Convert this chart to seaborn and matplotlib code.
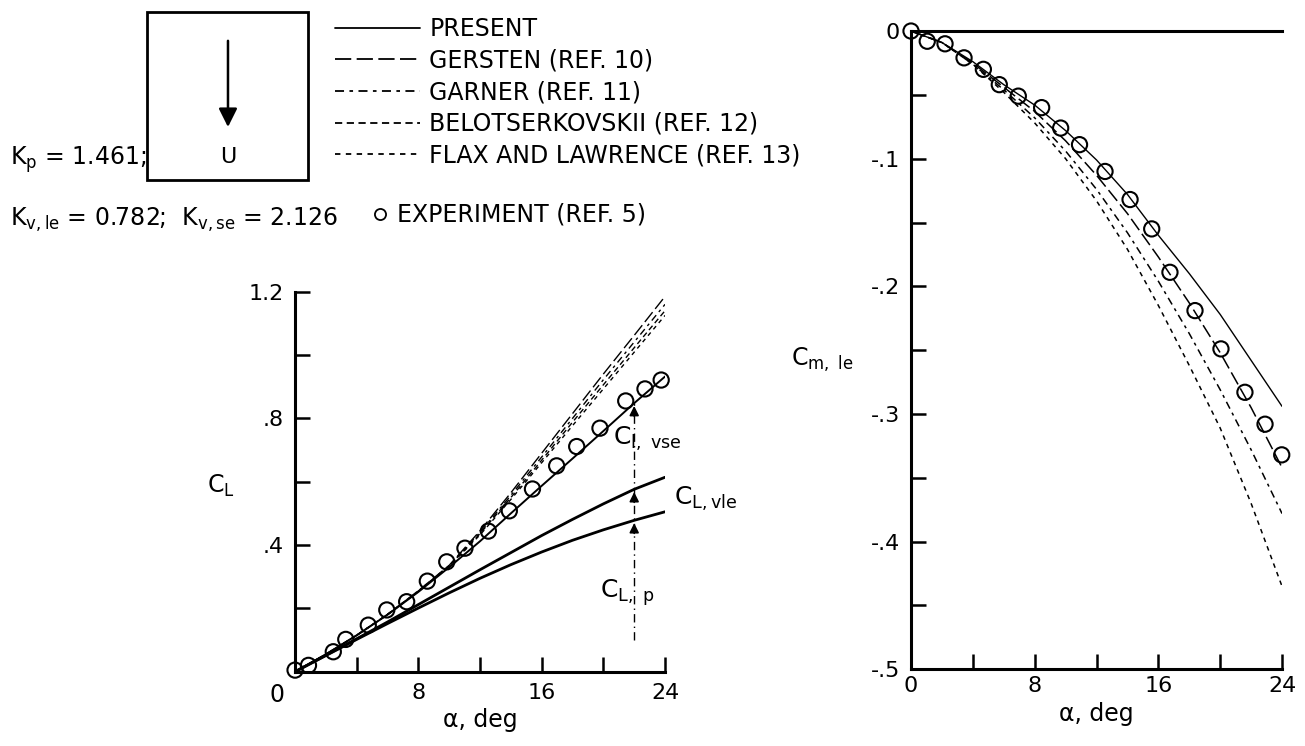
import numpy as np
import pandas as pd
import seaborn as sns
import matplotlib.pyplot as plt
from matplotlib.lines import Line2D
from matplotlib.patches import Rectangle, FancyArrowPatch

# angle of attack, deg
alpha = [0, 2, 4, 6, 8, 10, 12, 14, 16, 18, 20, 22, 24]

# lift coefficient (left panel)
cl_present = [0, 0.055, 0.115, 0.180, 0.252, 0.330, 0.412, 0.500, 0.587, 0.673, 0.760, 0.848, 0.932]
cl_p_vle = [0, 0.052, 0.104, 0.157, 0.212, 0.267, 0.322, 0.376, 0.430, 0.481, 0.530, 0.576, 0.614]
cl_p = [0, 0.051, 0.102, 0.152, 0.201, 0.249, 0.295, 0.338, 0.378, 0.415, 0.448, 0.478, 0.505]
cl_gersten = [0, 0.055, 0.115, 0.181, 0.256, 0.336, 0.445, 0.565, 0.690, 0.815, 0.940, 1.062, 1.185]
cl_garner = [0, 0.055, 0.115, 0.181, 0.255, 0.335, 0.440, 0.557, 0.678, 0.800, 0.922, 1.041, 1.160]
cl_belot = [0, 0.055, 0.115, 0.181, 0.254, 0.334, 0.436, 0.550, 0.668, 0.788, 0.906, 1.023, 1.140]
cl_flax = [0, 0.055, 0.115, 0.180, 0.253, 0.333, 0.432, 0.544, 0.660, 0.777, 0.893, 1.009, 1.125]

# leading-edge pitching moment (right panel)
cm_present = [0, -0.009, -0.024, -0.042, -0.058, -0.078, -0.101, -0.128, -0.160, -0.190, -0.222, -0.258, -0.294]
cm_gersten = [0, -0.009, -0.025, -0.044, -0.063, -0.086, -0.113, -0.143, -0.177, -0.213, -0.252, -0.295, -0.342]
cm_garner = [0, -0.009, -0.026, -0.046, -0.068, -0.094, -0.124, -0.158, -0.196, -0.237, -0.281, -0.328, -0.378]
cm_flax = [0, -0.009, -0.026, -0.048, -0.072, -0.100, -0.133, -0.171, -0.215, -0.262, -0.311, -0.370, -0.435]

# experiment (ref. 5)
exp_a_cl = [0, 0.87, 2.48, 3.29, 4.75, 5.95, 7.24, 8.58, 9.84, 11.02, 12.54, 13.9, 15.4, 16.97, 18.27, 19.78, 21.45, 22.7, 23.75]
exp_cl = [0.005, 0.02, 0.063, 0.102, 0.147, 0.195, 0.221, 0.286, 0.347, 0.39, 0.444, 0.508, 0.577, 0.65, 0.711, 0.769, 0.855, 0.893, 0.921]
exp_a_cm = [0, 1.05, 2.2, 3.43, 4.68, 5.71, 6.94, 8.45, 9.68, 10.9, 12.55, 14.17, 15.57, 16.75, 18.37, 20.05, 21.6, 22.9, 23.98]
exp_cm = [0.0, -0.008, -0.010, -0.021, -0.030, -0.042, -0.051, -0.060, -0.076, -0.089, -0.110, -0.132, -0.155, -0.189, -0.219, -0.249, -0.283, -0.308, -0.332]

sns.set_theme(style="ticks")
plt.rcParams['font.family'] = ['DejaVu Sans']
plt.rcParams['mathtext.default'] = 'regular'
plt.rcParams['text.color'] = 'black'
plt.rcParams['axes.labelcolor'] = 'black'

ls_gersten = (0, (9, 3))
ls_garner = (0, (5, 3, 2, 3))
ls_belot = (0, (4, 2.5))
ls_flax = (0, (3, 3))

fig = plt.figure(figsize=(13.05, 7.46), dpi=100)
ax1 = fig.add_axes([0.2261, 0.0996, 0.2835, 0.5094])
ax2 = fig.add_axes([0.6981, 0.1028, 0.2843, 0.8556])

# ---- left panel: C_L
sns.lineplot(x=alpha, y=cl_gersten, ax=ax1, color='black', lw=1.0, linestyle=ls_gersten)
sns.lineplot(x=alpha, y=cl_garner, ax=ax1, color='black', lw=1.0, linestyle=ls_garner)
sns.lineplot(x=alpha, y=cl_belot, ax=ax1, color='black', lw=1.0, linestyle=ls_belot)
sns.lineplot(x=alpha, y=cl_flax, ax=ax1, color='black', lw=1.0, linestyle=ls_flax)
sns.lineplot(x=alpha, y=cl_present, ax=ax1, color='black', lw=1.4)
sns.lineplot(x=alpha, y=cl_p_vle, ax=ax1, color='black', lw=2.0)
sns.lineplot(x=alpha, y=cl_p, ax=ax1, color='black', lw=2.0)
sns.scatterplot(x=exp_a_cl, y=exp_cl, ax=ax1, marker='o', s=120, facecolors='none',
                edgecolor='black', linewidth=1.5, clip_on=False, zorder=5)

# component arrows at alpha = 22
ia = 11
xa = alpha[ia]
ax1.vlines(xa, 0.1, cl_present[ia], colors='black', lw=1.0, linestyles=(0, (6, 3, 1, 3)))
for yv in [cl_p[ia], cl_p_vle[ia], cl_present[ia]]:
    ax1.annotate('', xy=(xa, yv), xytext=(xa, yv - 0.05),
                 arrowprops=dict(arrowstyle='-|>', color='black', lw=1.2, mutation_scale=14))
ax1.text(20.6, 0.735, r'C$_{l,\ vse}$', fontsize=18, va='center', ha='left')
ax1.text(24.6, 0.545, r'C$_{L,vle}$', fontsize=18, va='center', ha='left', clip_on=False)
ax1.text(19.8, 0.25, r'C$_{L,\ p}$', fontsize=18, va='center', ha='left')

ax1.set_xlim(0, 24)
ax1.set_ylim(0, 1.2)
ax1.set_xticks(range(0, 25, 4))
ax1.set_xticklabels(['', '', '8', '', '16', '', '24'])
ax1.set_yticks(np.arange(0, 1.21, 0.2))
ax1.set_yticklabels(['', '', '.4', '', '.8', '', '1.2'])
ax1.annotate('0', xy=(0, 0), xycoords='axes fraction', xytext=(-13, -8),
             textcoords='offset points', ha='center', va='top', fontsize=17)
ax1.set_xlabel('α, deg', fontsize=17, labelpad=4)
ax1.set_ylabel('')
ax1.text(-0.2, 0.49, r'C$_L$', transform=ax1.transAxes, fontsize=17, ha='center', va='center')

# ---- right panel: C_m,le
sns.lineplot(x=alpha, y=cm_flax, ax=ax2, color='black', lw=1.1, linestyle=ls_flax)
sns.lineplot(x=alpha, y=cm_garner, ax=ax2, color='black', lw=1.1, linestyle=ls_garner)
sns.lineplot(x=alpha, y=cm_gersten, ax=ax2, color='black', lw=1.1, linestyle=ls_gersten)
sns.lineplot(x=alpha, y=cm_present, ax=ax2, color='black', lw=1.0)
sns.scatterplot(x=exp_a_cm, y=exp_cm, ax=ax2, marker='o', s=120, facecolors='none',
                edgecolor='black', linewidth=1.5, clip_on=False, zorder=5)

ax2.set_xlim(0, 24)
ax2.set_ylim(-0.5, 0)
ax2.set_xticks(range(0, 25, 4))
ax2.set_xticklabels(['0', '', '8', '', '16', '', '24'])
ax2.set_yticks(np.arange(-0.5, 0.001, 0.05))
ax2.set_yticklabels(['-.5', '', '-.4', '', '-.3', '', '-.2', '', '-.1', '', '0'])
ax2.set_xlabel('α, deg', fontsize=17, labelpad=4)
ax2.set_ylabel('')
ax2.text(-0.24, 0.485, r'C$_{m,\ le}$', transform=ax2.transAxes, fontsize=17, ha='center', va='center')

for ax in (ax1, ax2):
    ax.tick_params(axis='both', which='both', direction='in', length=11, width=1.8,
                   labelsize=16, color='black', labelcolor='black', pad=8,
                   bottom=True, left=True, top=False, right=False)
    for s in ('left', 'bottom', 'top'):
        ax.spines[s].set_color('black')
        ax.spines[s].set_linewidth(2.2)
    ax.spines['right'].set_visible(False)
    ax.set_facecolor('white')
ax1.spines['top'].set_visible(False)
ax2.tick_params(axis='x', pad=5)
ax2.tick_params(axis='y', pad=8)

# ---- key box with free-stream arrow
fig.add_artist(Rectangle((0.1126, 0.7587), 0.1234, 0.2252, transform=fig.transFigure,
                         fill=False, ec='black', lw=2.0))
fig.add_artist(FancyArrowPatch((0.1747, 0.949), (0.1747, 0.826), transform=fig.transFigure,
                               arrowstyle='-|>', mutation_scale=28, color='black', lw=1.8))
fig.text(0.1747, 0.7895, 'U', fontsize=16, ha='center', va='center')
fig.text(0.0077, 0.7855, r'K$_p$ = 1.461;', fontsize=17, ha='left', va='center')
fig.text(0.0077, 0.705, r'K$_{v,le}$ = 0.782;  K$_{v,se}$ = 2.126', fontsize=17, ha='left', va='center')

# ---- legend
handles = [
    Line2D([], [], color='black', lw=1.3),
    Line2D([], [], color='black', lw=1.3, linestyle=ls_gersten),
    Line2D([], [], color='black', lw=1.3, linestyle=ls_garner),
    Line2D([], [], color='black', lw=1.3, linestyle=ls_belot),
    Line2D([], [], color='black', lw=1.3, linestyle=ls_flax),
]
labels = ['PRESENT', 'GERSTEN (REF. 10)', 'GARNER (REF. 11)',
          'BELOTSERKOVSKII (REF. 12)', 'FLAX AND LAWRENCE (REF. 13)']
fig.legend(handles, labels, loc='upper left', bbox_to_anchor=(0.2567, 0.977),
           frameon=False, fontsize=17, handlelength=3.6, handletextpad=0.4,
           labelspacing=0.32, borderpad=0, borderaxespad=0)
fig.legend([Line2D([], [], color='black', marker='o', mfc='none', ls='none', ms=8, mew=1.3)],
           ['EXPERIMENT (REF. 5)'], loc='center left', bbox_to_anchor=(0.284, 0.712),
           frameon=False, fontsize=17, handlelength=0.8, handletextpad=0.3,
           borderpad=0, borderaxespad=0)

fig.savefig('out.png', dpi=100)
